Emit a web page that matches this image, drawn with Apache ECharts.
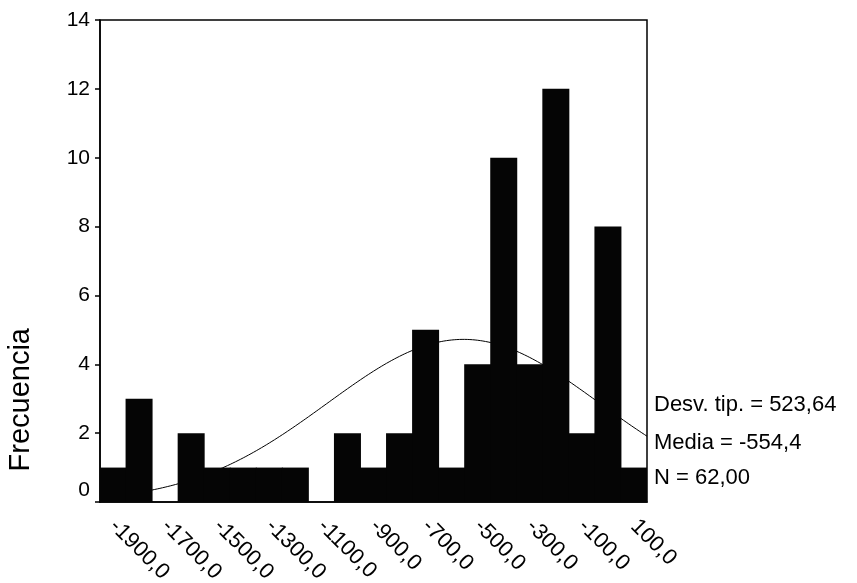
<!DOCTYPE html>
<html>
<head>
<meta charset="utf-8">
<script src="https://cdn.jsdelivr.net/npm/echarts@6/dist/echarts.min.js"></script>
<style>
html,body{margin:0;padding:0;background:#fff;}
#c{width:857px;height:583px;}
</style>
</head>
<body>
<div id="c"></div>
<script>
// Bin midpoints (width 100)
const binMids = [-1900,-1800,-1700,-1600,-1500,-1400,-1300,-1200,-1100,-1000,-900,-800,-700,-600,-500,-400,-300,-200,-100,0,100];
// Frequencies per bin
const freqs = [1,3,0,2,1,1,1,1,0,2,1,2,5,1,4,10,4,12,2,8,1];
// Summary statistics shown on the chart
const statSD = 523.64;
const statMean = -554.4;
const statN = 62;
const binWidth = 100;
const statLabels = ['Desv. tip. = 523,64', 'Media = -554,4', 'N = 62,00'];
const yTicks = [0,2,4,6,8,10,12,14];

// Fitted normal curve defined by the stated mean / sd / N
const curve = [];
const xStart = binMids[0] - binWidth/2, xEnd = binMids[binMids.length-1] + binWidth/2;
for (let x = xStart; x <= xEnd; x += 5) {
  const z = (x - statMean) / statSD;
  curve.push([x, statN * binWidth / (statSD * Math.sqrt(2*Math.PI)) * Math.exp(-0.5*z*z)]);
}

const font = '"Liberation Sans", Arial, sans-serif';
const chart = echarts.init(document.getElementById('c'));
chart.setOption({
  animation: false,
  backgroundColor: '#fff',
  grid: {left: 100, right: 210, top: 20, bottom: 81, show: true, borderColor: '#000', borderWidth: 1.5, outerBoundsMode: 'none', containLabel: false},
  xAxis: [{
    type: 'category',
    data: binMids.map(v => v.toFixed(1).replace('.', ',')),
    axisLine: {lineStyle: {color: '#000', width: 1.5}},
    axisTick: {alignWithLabel: true, interval: 1, length: 5, lineStyle: {color: '#000', width: 1.5}},
    axisLabel: {interval: 1, rotate: -45, color: '#000', fontFamily: font, fontSize: 22, margin: 21}
  }, {
    type: 'value', min: xStart, max: xEnd, show: false
  }],
  yAxis: {
    type: 'value', min: yTicks[0], max: yTicks[yTicks.length-1], interval: 2,
    splitLine: {show: false},
    axisLine: {show: true, onZero: false, lineStyle: {color: '#000', width: 1.5}},
    axisTick: {show: true, length: 5, lineStyle: {color: '#000', width: 1.5}},
    axisLabel: {
      color: '#000', fontFamily: font, fontSize: 21, margin: 10,
      formatter: v => v === 0 ? '{z|0}' : String(v),
      rich: {z: {color: '#000', fontFamily: font, fontSize: 21, padding: [0,0,24,0]}}
    }
  },
  series: [{
    type: 'line', xAxisIndex: 1, data: curve, showSymbol: false, smooth: false,
    lineStyle: {color: '#000', width: 1}, z: 1
  }, {
    type: 'bar', xAxisIndex: 0, data: freqs, barWidth: 27,
    itemStyle: {color: '#050505'}, z: 2
  }],
  graphic: [
    {type: 'text', left: 6, top: 328, rotation: Math.PI/2, style: {text: 'Frecuencia', font: '29px ' + font, fill: '#000'}},
    {type: 'text', x: 654, y: 405, style: {text: statLabels[0], font: '22px ' + font, fill: '#000', textVerticalAlign: 'middle'}},
    {type: 'text', x: 654, y: 443, style: {text: statLabels[1], font: '22px ' + font, fill: '#000', textVerticalAlign: 'middle'}},
    {type: 'text', x: 654, y: 478, style: {text: statLabels[2], font: '22px ' + font, fill: '#000', textVerticalAlign: 'middle'}}
  ]
});
</script>
</body>
</html>
